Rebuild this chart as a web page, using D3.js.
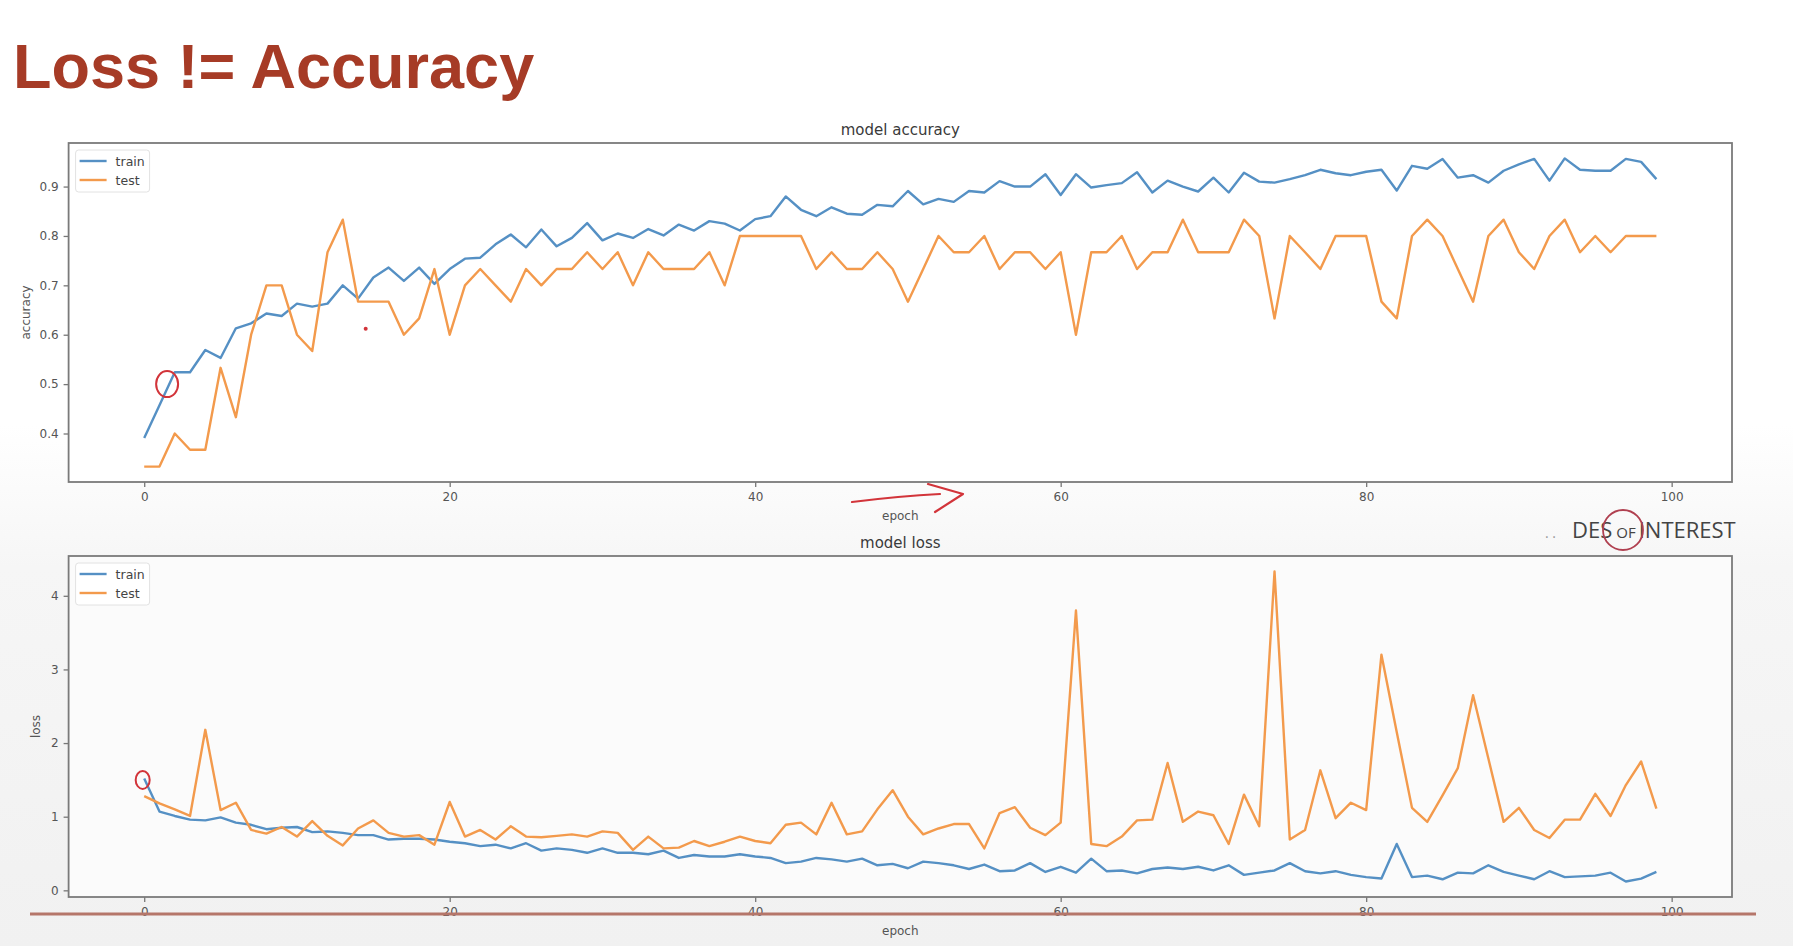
<!DOCTYPE html>
<html>
<head>
<meta charset="utf-8">
<script src="https://cdn.jsdelivr.net/npm/d3@7"></script>
<style>
  html, body { margin: 0; padding: 0; background: #fff; }
  svg { display: block; }
</style>
</head>
<body>
<div id="chart"></div>
<script>
// values (100 epochs)
const accTrain = [
  0.391, 0.457, 0.524, 0.524, 0.569, 0.553, 0.613, 0.623, 0.643, 0.638,
  0.663, 0.657, 0.663, 0.700, 0.673, 0.716, 0.736, 0.709, 0.736, 0.703,
  0.733, 0.754, 0.756, 0.783, 0.803, 0.777, 0.813, 0.779, 0.796, 0.826,
  0.791, 0.805, 0.796, 0.814, 0.801, 0.823, 0.811, 0.830, 0.825, 0.811,
  0.834, 0.840, 0.880, 0.853, 0.840, 0.858, 0.845, 0.843, 0.863, 0.860,
  0.891, 0.864, 0.875, 0.869, 0.891, 0.888, 0.911, 0.900, 0.900, 0.925,
  0.883, 0.925, 0.898, 0.903, 0.907, 0.929, 0.888, 0.912, 0.900, 0.890,
  0.918, 0.888, 0.928, 0.910, 0.908, 0.915, 0.923, 0.934, 0.927, 0.923,
  0.930, 0.934, 0.892, 0.942, 0.936, 0.956, 0.918, 0.923, 0.908, 0.932,
  0.945, 0.956, 0.912, 0.957, 0.934, 0.932, 0.932, 0.956, 0.950, 0.915
];
const accTest = [
  0.333, 0.333, 0.400, 0.367, 0.367, 0.533, 0.433, 0.600, 0.700, 0.700,
  0.600, 0.567, 0.767, 0.833, 0.667, 0.667, 0.667, 0.600, 0.633, 0.733,
  0.600, 0.700, 0.733, 0.700, 0.667, 0.733, 0.700, 0.733, 0.733, 0.767,
  0.733, 0.767, 0.700, 0.767, 0.733, 0.733, 0.733, 0.767, 0.700, 0.800,
  0.800, 0.800, 0.800, 0.800, 0.733, 0.767, 0.733, 0.733, 0.767, 0.733,
  0.667, 0.733, 0.800, 0.767, 0.767, 0.800, 0.733, 0.767, 0.767, 0.733,
  0.767, 0.600, 0.767, 0.767, 0.800, 0.733, 0.767, 0.767, 0.833, 0.767,
  0.767, 0.767, 0.833, 0.800, 0.633, 0.800, 0.767, 0.733, 0.800, 0.800,
  0.800, 0.667, 0.633, 0.800, 0.833, 0.800, 0.733, 0.667, 0.800, 0.833,
  0.767, 0.733, 0.800, 0.833, 0.767, 0.800, 0.767, 0.800, 0.800, 0.800
];
const lossTrain = [
  1.52, 1.07, 1.01, 0.96, 0.95, 0.99, 0.92, 0.89, 0.83, 0.85,
  0.86, 0.79, 0.80, 0.78, 0.75, 0.75, 0.69, 0.70, 0.70, 0.69,
  0.66, 0.64, 0.60, 0.62, 0.57, 0.64, 0.54, 0.57, 0.55, 0.51,
  0.57, 0.51, 0.51, 0.49, 0.54, 0.44, 0.48, 0.46, 0.46, 0.49,
  0.46, 0.44, 0.37, 0.39, 0.44, 0.42, 0.39, 0.43, 0.34, 0.36,
  0.30, 0.39, 0.37, 0.34, 0.29, 0.35, 0.26, 0.27, 0.37, 0.25,
  0.32, 0.24, 0.43, 0.26, 0.27, 0.23, 0.29, 0.31, 0.29, 0.32,
  0.27, 0.34, 0.21, 0.24, 0.27, 0.37, 0.26, 0.23, 0.26, 0.21,
  0.18, 0.16, 0.63, 0.18, 0.20, 0.15, 0.24, 0.23, 0.34, 0.25,
  0.20, 0.15, 0.26, 0.18, 0.19, 0.20, 0.24, 0.12, 0.16, 0.25
];
const lossTest = [
  1.28, 1.18, 1.10, 1.01, 2.18, 1.09, 1.19, 0.82, 0.77, 0.86,
  0.73, 0.94, 0.74, 0.61, 0.84, 0.95, 0.78, 0.73, 0.75, 0.62,
  1.20, 0.73, 0.82, 0.69, 0.87, 0.73, 0.72, 0.74, 0.76, 0.73,
  0.80, 0.78, 0.55, 0.73, 0.57, 0.58, 0.67, 0.60, 0.66, 0.73,
  0.67, 0.64, 0.89, 0.92, 0.76, 1.19, 0.76, 0.80, 1.10, 1.36,
  1.00, 0.76, 0.84, 0.90, 0.90, 0.57, 1.05, 1.13, 0.85, 0.75,
  0.92, 3.80, 0.63, 0.60, 0.73, 0.95, 0.96, 1.73, 0.93, 1.07,
  1.02, 0.63, 1.30, 0.87, 4.33, 0.69, 0.82, 1.63, 0.98, 1.19,
  1.09, 3.20, 2.15, 1.12, 0.93, 1.29, 1.66, 2.65, 1.79, 0.93,
  1.12, 0.82, 0.71, 0.96, 0.96, 1.31, 1.01, 1.43, 1.75, 1.11
];
const epochTicks = [0, 20, 40, 60, 80, 100];
const accTicks = [0.4, 0.5, 0.6, 0.7, 0.8, 0.9];
const lossTicks = [0, 1, 2, 3, 4];
const seriesNames = ["train", "test"];

const width = 1793, height = 946;
const blue = "#5590c4", orange = "#f39a4c";
const tickFont = "DejaVu Sans";

const svg = d3.select("#chart").append("svg")
  .attr("width", width).attr("height", height)
  .attr("viewBox", [0, 0, width, height]);

// slide background, greyer towards the bottom
const defs = svg.append("defs");
const bg = defs.append("linearGradient").attr("id", "bg")
  .attr("x1", "0%").attr("x2", "0%").attr("y1", "0%").attr("y2", "100%");
bg.append("stop").attr("offset", "45%").attr("stop-color", "#ffffff");
bg.append("stop").attr("offset", "60%").attr("stop-color", "#f6f6f6");
bg.append("stop").attr("offset", "100%").attr("stop-color", "#f1f1f1");
svg.append("rect").attr("width", width).attr("height", height).attr("fill", "url(#bg)");

svg.append("text")
  .attr("x", 13).attr("y", 88)
  .attr("font-family", "Liberation Sans, Arial, sans-serif")
  .attr("font-weight", "bold").attr("font-size", 63)
  .attr("fill", "#a63b26")
  .text("Loss != Accuracy");

function padded(arrs) {
  const all = [].concat(...arrs);
  const [lo, hi] = d3.extent(all);
  const m = (hi - lo) * 0.05;
  return [lo - m, hi + m];
}

function panel(cfg) {
  const { top, bottom, left, right } = cfg;
  const n = cfg.series[0].length;
  const x = d3.scaleLinear()
    .domain([-(n - 1) * 0.05, (n - 1) * 1.05])
    .range([left, right]);
  const y = d3.scaleLinear().domain(padded(cfg.series)).range([bottom, top]);

  const g = svg.append("g");
  g.append("rect")
    .attr("x", left).attr("y", top)
    .attr("width", right - left).attr("height", bottom - top)
    .attr("fill", cfg.fill);

  const line = d3.line().x((d, i) => x(i)).y(d => y(d));
  cfg.series.forEach((s, k) => {
    g.append("path").datum(s)
      .attr("fill", "none")
      .attr("stroke", k === 0 ? blue : orange)
      .attr("stroke-width", 2.4)
      .attr("stroke-linejoin", "round")
      .attr("d", line);
  });

  const xAxis = g.append("g")
    .attr("transform", `translate(0,${bottom})`)
    .call(d3.axisBottom(x).tickValues(epochTicks).tickSize(5).tickPadding(5));
  const yAxis = g.append("g")
    .attr("transform", `translate(${left},0)`)
    .call(d3.axisLeft(y).tickValues(cfg.ticks).tickFormat(cfg.fmt).tickSize(5).tickPadding(5));
  [xAxis, yAxis].forEach(a => {
    a.select(".domain").remove();
    a.selectAll("line").attr("stroke", "#777").attr("stroke-width", 1.3);
    a.selectAll("text").attr("font-family", tickFont).attr("font-size", 12).attr("fill", "#555");
  });

  g.append("rect")
    .attr("x", left).attr("y", top)
    .attr("width", right - left).attr("height", bottom - top)
    .attr("fill", "none").attr("stroke", "#7a7a7a").attr("stroke-width", 1.8);

  g.append("text")
    .attr("x", (left + right) / 2).attr("y", top - 8)
    .attr("text-anchor", "middle")
    .attr("font-family", tickFont).attr("font-size", 15).attr("fill", "#3a3a3a")
    .text(cfg.title);
  g.append("text")
    .attr("x", (left + right) / 2).attr("y", bottom + 38)
    .attr("text-anchor", "middle")
    .attr("font-family", tickFont).attr("font-size", 12).attr("fill", "#555")
    .text("epoch");
  g.append("text")
    .attr("transform", `translate(${cfg.ylabelX},${(top + bottom) / 2}) rotate(-90)`)
    .attr("text-anchor", "middle")
    .attr("font-family", tickFont).attr("font-size", 12).attr("fill", "#555")
    .text(cfg.ylabel);

  // legend
  const lg = g.append("g").attr("transform", `translate(${left + 7},${top + 7})`);
  lg.append("rect").attr("width", 74).attr("height", 42).attr("rx", 3)
    .attr("fill", "#fff").attr("stroke", "#e2e2e2");
  seriesNames.forEach((name, k) => {
    const yy = 11 + k * 19;
    lg.append("line").attr("x1", 4).attr("x2", 31).attr("y1", yy).attr("y2", yy)
      .attr("stroke", k === 0 ? blue : orange).attr("stroke-width", 2.4);
    lg.append("text").attr("x", 40).attr("y", yy + 4.5)
      .attr("font-family", tickFont).attr("font-size", 12.5).attr("fill", "#444")
      .text(name);
  });
  return { x, y };
}

const accPanel = panel({
  top: 143, bottom: 482, left: 68.6, right: 1732,
  series: [accTrain, accTest], ticks: accTicks, fmt: d3.format(".1f"),
  title: "model accuracy", ylabel: "accuracy", ylabelX: 30, fill: "#ffffff"
});
const lossPanel = panel({
  top: 556, bottom: 897, left: 68.6, right: 1732,
  series: [lossTrain, lossTest], ticks: lossTicks, fmt: d3.format("d"),
  title: "model loss", ylabel: "loss", ylabelX: 40, fill: "#fbfbfb"
});

// presenter's hand annotations
const red = "#d2343a";
svg.append("ellipse")
  .attr("cx", accPanel.x(1.5)).attr("cy", accPanel.y(0.5))
  .attr("rx", 11).attr("ry", 13)
  .attr("fill", "none").attr("stroke", red).attr("stroke-width", 2);
svg.append("circle")
  .attr("cx", accPanel.x(14.5)).attr("cy", accPanel.y(0.612))
  .attr("r", 2).attr("fill", red);
svg.append("ellipse")
  .attr("cx", lossPanel.x(-0.1)).attr("cy", lossPanel.y(1.5))
  .attr("rx", 7).attr("ry", 9)
  .attr("fill", "none").attr("stroke", red).attr("stroke-width", 2);
svg.append("path")
  .attr("d", "M852,502 Q900,496 940,494 M928,484 L963,494 L935,512")
  .attr("fill", "none").attr("stroke", red).attr("stroke-width", 2.2)
  .attr("stroke-linecap", "round").attr("stroke-linejoin", "round");

// logo
const logo = svg.append("text")
  .attr("x", 1572).attr("y", 538)
  .attr("font-family", "Open Sans, sans-serif").attr("font-size", 22)
  .attr("fill", "#444");
logo.append("tspan").text("DES");
logo.append("tspan").attr("dx", 4).attr("font-size", 15).text("OF");
logo.append("tspan").attr("dx", 3).text("INTEREST");
svg.append("circle").attr("cx", 1623).attr("cy", 530).attr("r", 20)
  .attr("fill", "none").attr("stroke", "#b04050").attr("stroke-width", 1.8);
svg.append("text").attr("x", 1545).attr("y", 538)
  .attr("font-family", "Open Sans, sans-serif").attr("font-size", 14).attr("fill", "#999")
  .text(".  .");

// red underline across the slide
svg.append("line")
  .attr("x1", 30).attr("x2", 1756).attr("y1", 914).attr("y2", 914)
  .attr("stroke", "#b5766a").attr("stroke-width", 3);
</script>
</body>
</html>
